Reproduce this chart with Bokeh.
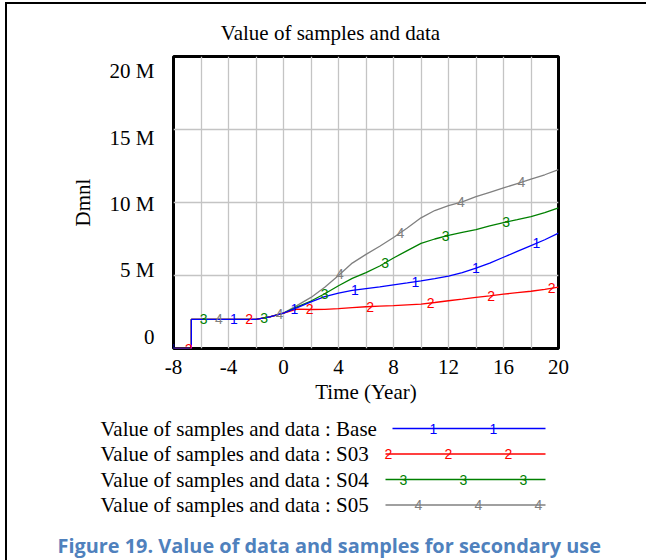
import numpy as np
from bokeh.plotting import figure
from bokeh.layouts import column
from bokeh.models import Range1d, LinearAxis, FixedTicker, Grid, ColumnDataSource
from bokeh.embed import file_html
from bokeh.resources import INLINE
from bokeh.core.properties import value

# ---------------- data (values in millions of Dmnl) ----------------
time_year = [-8, -6.7, -6.7, -2, -1, 0, 1, 2, 3, 4, 5, 6, 7, 8, 9, 10,
             11, 12, 13, 14, 15, 16, 17, 18, 19, 20]
base_m = [0, 0, 2.0, 2.0, 2.17, 2.42, 2.8, 3.2, 3.55, 3.8, 3.98, 4.1, 4.22, 4.36,
          4.49, 4.63, 4.78, 4.96, 5.2, 5.5, 5.85, 6.25, 6.65, 7.05, 7.45, 7.9]
s03_m = [0, 0, 2.0, 2.0, 2.17, 2.42, 2.7, 2.67, 2.68, 2.73, 2.8, 2.86, 2.9, 2.94,
         2.99, 3.04, 3.15, 3.27, 3.38, 3.5, 3.6, 3.72, 3.82, 3.92, 4.05, 4.2]
s04_m = [0, 0, 2.0, 2.0, 2.17, 2.42, 2.85, 3.25, 3.75, 4.3, 4.8, 5.2, 5.65, 6.2,
         6.7, 7.2, 7.5, 7.75, 7.95, 8.14, 8.4, 8.62, 8.82, 9.03, 9.3, 9.63]
s05_m = [0, 0, 2.0, 2.0, 2.17, 2.42, 2.95, 3.5, 4.2, 5.0, 5.85, 6.45, 7.0, 7.6,
         8.25, 8.95, 9.45, 9.78, 10.05, 10.4, 10.7, 11.0, 11.3, 11.6, 11.9, 12.25]

series_names = ["Base", "S03", "S04", "S05"]
series_values = [base_m, s03_m, s04_m, s05_m]
series_colors = ["#0000ff", "#ff0000", "#008000", "#808080"]
series_marks = ["1", "2", "3", "4"]

x_ticks = [-8, -4, 0, 4, 8, 12, 16, 20]
x_tick_labels = ["-8", "-4", "0", "4", "8", "12", "16", "20"]
x_grid = [-6, -4, -2, 0, 2, 4, 6, 8, 10, 12, 14, 16, 18]
y_ticks = [0, 5e6, 10e6, 15e6, 20e6]
y_tick_labels = ["0", "5 M", "10 M", "15 M", "20 M"]
y_grid = [5e6, 10e6, 15e6]

title_text = "Value of samples and data"
x_label = "Time (Year)"
y_label = "Dmnl"
legend_prefix = "Value of samples and data : "
caption_text = "Figure 19. Value of data and samples for secondary use"

# ---------------- styles ----------------
SERIF = "Liberation Serif"
FS = "21px"
OX = 7          # page x of content origin (after css border)
W = 646 - OX
CHART_BOTTOM = 412


def page_fig(y0, y1):
    """A figure whose frame is the whole canvas, in page pixel coordinates."""
    f = figure(width=W, height=y1 - y0, x_range=Range1d(OX, 646), y_range=Range1d(y1, y0),
               output_backend="svg", toolbar_location=None,
               x_axis_location=None, y_axis_location=None, min_border=0,
               title=None, frame_align=False)
    f.center = []
    f.outline_line_color = None
    f.background_fill_color = "white"
    f.border_fill_color = "white"
    return f


# ---------------- title strip ----------------
pt = page_fig(4, 52)
pt.text([330], [32], text=[title_text], text_font=value(SERIF), text_font_size=value(FS),
        text_color="black", text_align="center", text_baseline="middle")

# ---------------- chart figure ----------------
pa = figure(width=W, height=CHART_BOTTOM - 52, x_range=Range1d(-8, 20), y_range=Range1d(0, 20e6),
            output_backend="svg", toolbar_location=None, title=None,
            x_axis_location=None, y_axis_location=None,
            min_border_left=166, min_border_right=88,
            min_border_top=4, min_border_bottom=CHART_BOTTOM - 348, frame_align=False)
pa.center = []
pa.outline_line_color = "black"
pa.outline_line_width = 3
pa.background_fill_color = "white"
pa.border_fill_color = "white"

# label axis range reproduces the reference's label placement
pa.extra_y_ranges = {"lbl": Range1d(-0.882e6, 21.108e6)}

xax = LinearAxis(ticker=FixedTicker(ticks=x_ticks))
xax.major_label_overrides = {t: l for t, l in zip(x_ticks, x_tick_labels)}
yax = LinearAxis(ticker=FixedTicker(ticks=y_ticks), y_range_name="lbl")
yax.major_label_overrides = {t: l for t, l in zip(y_ticks, y_tick_labels)}
for ax in (xax, yax):
    ax.axis_line_color = None
    ax.major_tick_line_color = None
    ax.minor_tick_line_color = None
    ax.major_label_text_font = SERIF
    ax.major_label_text_font_size = FS
    ax.major_label_text_color = "black"
    ax.axis_label_text_font = SERIF
    ax.axis_label_text_font_size = FS
    ax.axis_label_text_font_style = "normal"
    ax.axis_label_text_color = "black"
xax.axis_label = x_label
xax.major_label_standoff = 5
xax.axis_label_standoff = 3
yax.axis_label = y_label
yax.major_label_standoff = 13
yax.axis_label_standoff = 12
pa.add_layout(xax, "below")
pa.add_layout(yax, "left")

gx = Grid(dimension=0, ticker=FixedTicker(ticks=x_grid), grid_line_color="#c4c4c4", grid_line_width=1.3)
gy = Grid(dimension=1, ticker=FixedTicker(ticks=y_grid), grid_line_color="#c4c4c4", grid_line_width=1.3)
pa.add_layout(gx)
pa.add_layout(gy)

t_arr = np.array(time_year, dtype=float)
# draw in reverse order so series 1 is on top
for i in reversed(range(4)):
    vals = np.array(series_values[i]) * 1e6
    pa.line(t_arr, vals, line_color=series_colors[i], line_width=1.3)
for i in reversed(range(4)):
    vals = np.array(series_values[i]) * 1e6
    mx = np.arange(-8 + 1.1 * i, 20.05, 4.4)
    my = np.interp(mx, t_arr, vals)
    pa.text(mx, my, text=[series_marks[i]] * len(mx), text_color=series_colors[i],
            text_font=value("Liberation Sans"), text_font_size=value("14px"),
            text_align="center", text_baseline="middle")

# ---------------- legend + caption (page pixel coordinates) ----------------
pb = page_fig(CHART_BOTTOM, 560)

leg_y = [428, 453.5, 479, 504.5]
leg_line_start = [392, 385, 385, 385]
leg_line_end = 545
src = ColumnDataSource(dict(x=[100] * 4, y=leg_y,
                            text=[legend_prefix + n for n in series_names]))
pb.text("x", "y", text="text", source=src, text_font=value(SERIF),
        text_font_size=value(FS), text_color="black", text_baseline="middle")
pb.segment(x0=leg_line_start, y0=leg_y, x1=[leg_line_end] * 4, y1=leg_y,
           line_color=series_colors, line_width=1.3)
for i in range(4):
    xs = [x for x in np.arange(373 + 15 * i, 560, 60) if leg_line_start[i] - 5 <= x <= leg_line_end + 1]
    pb.text(xs, [leg_y[i]] * len(xs), text=[series_marks[i]] * len(xs),
            text_color=series_colors[i], text_font=value("Liberation Sans"),
            text_font_size=value("14px"), text_align="center", text_baseline="middle")

pb.text([57], [545], text=[caption_text], text_font=value("Open Sans"), text_font_style="bold",
        text_font_size=value("19.9px"), text_color="#4F81BD", text_baseline="middle")

layout = column(pt, pa, pb, styles={"margin-left": "5px", "margin-top": "2px",
                                    "border-left": "2px solid black",
                                    "border-top": "2px solid black"})

open("out.html", "w").write(file_html(layout, INLINE))
